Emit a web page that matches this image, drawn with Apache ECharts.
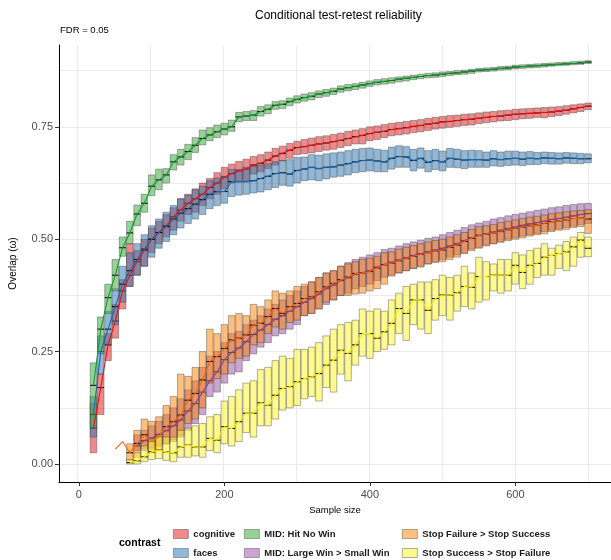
<!DOCTYPE html>
<html>
<head>
<meta charset="utf-8">
<script src="https://cdn.jsdelivr.net/npm/echarts@6/dist/echarts.min.js"></script>
<style>
html, body { margin: 0; padding: 0; background: #fff; }
#chart { width: 611px; height: 560px; }
</style>
</head>
<body>
<div id="chart"></div>
<script>
// sample sizes (x) shared by every contrast
const sizes = [20,30,40,50,60,70,80,90,100,110,120,130,140,150,160,170,180,190,200,210,
  220,230,240,250,260,270,280,290,300,310,320,330,340,350,360,370,380,390,400,410,
  420,430,440,450,460,470,480,490,500,510,520,530,540,550,560,570,580,590,600,610,
  620,630,640,650,660,670,680,690,700];

// cognitive, from n = 20
const cognitiveMed = [0.080,0.170,0.265,0.318,0.385,0.420,0.450,0.475,0.500,0.515,
  0.530,0.550,0.565,0.580,0.590,0.600,0.615,0.625,0.638,0.646,
  0.652,0.656,0.665,0.669,0.676,0.685,0.691,0.698,0.704,0.706,
  0.709,0.712,0.714,0.717,0.720,0.724,0.728,0.731,0.735,0.738,
  0.740,0.744,0.746,0.748,0.751,0.753,0.756,0.758,0.761,0.762,
  0.764,0.766,0.767,0.769,0.771,0.773,0.774,0.776,0.778,0.779,
  0.780,0.781,0.782,0.783,0.785,0.787,0.790,0.793,0.796];
const cognitiveLo = [0.025,0.110,0.230,0.280,0.345,0.395,0.420,0.440,0.470,0.490,
  0.505,0.520,0.540,0.555,0.560,0.575,0.590,0.600,0.612,0.625,
  0.630,0.630,0.645,0.650,0.657,0.665,0.674,0.680,0.688,0.690,
  0.692,0.695,0.698,0.700,0.704,0.708,0.712,0.712,0.719,0.722,
  0.726,0.730,0.732,0.734,0.737,0.739,0.742,0.745,0.747,0.749,
  0.751,0.753,0.754,0.757,0.759,0.761,0.763,0.764,0.766,0.768,
  0.769,0.771,0.770,0.773,0.775,0.778,0.781,0.784,0.788];
const cognitiveHi = [0.135,0.200,0.290,0.355,0.410,0.490,0.475,0.500,0.525,0.540,
  0.555,0.570,0.590,0.600,0.612,0.625,0.635,0.648,0.660,0.667,
  0.673,0.678,0.684,0.688,0.694,0.702,0.707,0.713,0.718,0.722,
  0.725,0.728,0.730,0.733,0.736,0.740,0.743,0.746,0.750,0.752,
  0.755,0.758,0.760,0.762,0.764,0.766,0.769,0.771,0.773,0.775,
  0.776,0.778,0.779,0.781,0.783,0.784,0.786,0.787,0.789,0.790,
  0.791,0.792,0.793,0.794,0.795,0.797,0.799,0.801,0.803];

// faces, from n = 20
const facesMed = [0.110,0.250,0.300,0.350,0.400,0.430,0.455,0.478,0.500,0.515,
  0.528,0.545,0.558,0.568,0.578,0.588,0.600,0.606,0.606,0.628,
  0.628,0.628,0.630,0.635,0.640,0.646,0.648,0.645,0.653,0.656,
  0.660,0.657,0.660,0.661,0.665,0.668,0.672,0.675,0.676,0.674,
  0.672,0.680,0.684,0.683,0.675,0.680,0.671,0.675,0.672,0.680,
  0.678,0.676,0.677,0.677,0.676,0.679,0.677,0.679,0.680,0.678,
  0.680,0.679,0.681,0.680,0.679,0.681,0.680,0.679,0.679];
const facesLo = [0.060,0.200,0.265,0.310,0.360,0.395,0.420,0.440,0.460,0.480,
  0.495,0.510,0.525,0.535,0.545,0.555,0.568,0.575,0.580,0.595,
  0.598,0.600,0.603,0.605,0.610,0.615,0.620,0.618,0.625,0.630,
  0.632,0.630,0.634,0.638,0.640,0.643,0.648,0.650,0.652,0.650,
  0.650,0.656,0.660,0.660,0.652,0.658,0.650,0.655,0.652,0.660,
  0.659,0.657,0.660,0.660,0.660,0.663,0.662,0.664,0.665,0.664,
  0.666,0.666,0.668,0.667,0.667,0.669,0.668,0.668,0.670];
const facesHi = [0.150,0.285,0.340,0.390,0.440,0.470,0.490,0.510,0.530,0.545,
  0.560,0.575,0.590,0.598,0.610,0.618,0.630,0.636,0.640,0.655,
  0.655,0.660,0.662,0.665,0.668,0.672,0.675,0.677,0.682,0.683,
  0.688,0.687,0.690,0.692,0.694,0.697,0.700,0.702,0.703,0.700,
  0.698,0.705,0.708,0.706,0.700,0.703,0.697,0.700,0.696,0.702,
  0.700,0.697,0.698,0.697,0.694,0.697,0.694,0.696,0.696,0.694,
  0.695,0.693,0.694,0.693,0.692,0.693,0.692,0.691,0.690];

// MID: Hit No Win, from n = 20
const hitMed = [0.175,0.300,0.370,0.420,0.481,0.514,0.556,0.580,0.618,0.632,
  0.643,0.672,0.683,0.695,0.709,0.724,0.732,0.739,0.745,0.750,
  0.772,0.774,0.776,0.784,0.789,0.798,0.800,0.806,0.811,0.815,
  0.818,0.823,0.826,0.829,0.834,0.837,0.840,0.843,0.846,0.849,
  0.851,0.853,0.856,0.858,0.860,0.862,0.864,0.865,0.867,0.869,
  0.870,0.872,0.874,0.876,0.877,0.878,0.880,0.881,0.883,0.884,
  0.885,0.886,0.887,0.888,0.889,0.890,0.891,0.892,0.894];
const hitLo = [0.080,0.245,0.335,0.385,0.462,0.490,0.530,0.560,0.597,0.610,
  0.625,0.654,0.665,0.677,0.693,0.710,0.719,0.726,0.732,0.740,
  0.761,0.764,0.764,0.774,0.779,0.789,0.791,0.797,0.803,0.807,
  0.810,0.815,0.818,0.822,0.827,0.830,0.833,0.836,0.840,0.843,
  0.845,0.847,0.850,0.852,0.855,0.857,0.859,0.860,0.862,0.864,
  0.866,0.867,0.869,0.872,0.873,0.874,0.876,0.877,0.879,0.880,
  0.881,0.882,0.883,0.885,0.886,0.887,0.888,0.889,0.891];
const hitHi = [0.225,0.327,0.400,0.455,0.505,0.540,0.576,0.600,0.643,0.656,
  0.657,0.688,0.700,0.711,0.726,0.743,0.748,0.754,0.758,0.765,
  0.782,0.784,0.786,0.795,0.799,0.806,0.808,0.814,0.819,0.823,
  0.826,0.830,0.833,0.836,0.841,0.844,0.846,0.849,0.852,0.855,
  0.857,0.859,0.861,0.863,0.865,0.867,0.869,0.870,0.872,0.873,
  0.875,0.876,0.878,0.880,0.881,0.882,0.884,0.885,0.887,0.888,
  0.889,0.890,0.891,0.892,0.893,0.894,0.895,0.896,0.897];

// MID: Large Win > Small Win, from n = 80
const largeWinMed = [0.040,0.052,0.058,0.066,0.074,0.085,0.098,0.118,0.135,0.160,
  0.185,0.205,0.232,0.248,0.258,0.272,0.288,0.298,0.310,0.322,
  0.330,0.340,0.350,0.360,0.368,0.378,0.390,0.398,0.408,0.414,
  0.422,0.426,0.430,0.438,0.444,0.449,0.454,0.459,0.464,0.468,
  0.472,0.476,0.480,0.485,0.490,0.497,0.503,0.508,0.512,0.516,
  0.520,0.524,0.527,0.531,0.534,0.537,0.540,0.544,0.546,0.549,
  0.552,0.555,0.557];
const largeWinLo = [0.030,0.030,0.035,0.040,0.045,0.050,0.060,0.075,0.090,0.110,
  0.150,0.160,0.180,0.200,0.205,0.230,0.245,0.260,0.270,0.285,
  0.290,0.300,0.310,0.330,0.335,0.345,0.355,0.365,0.375,0.380,
  0.390,0.395,0.400,0.408,0.415,0.420,0.425,0.430,0.435,0.440,
  0.445,0.450,0.455,0.460,0.465,0.470,0.478,0.482,0.487,0.490,
  0.495,0.500,0.503,0.507,0.510,0.513,0.517,0.520,0.523,0.526,
  0.529,0.532,0.535];
const largeWinHi = [0.065,0.075,0.085,0.095,0.110,0.125,0.145,0.165,0.185,0.215,
  0.240,0.250,0.270,0.290,0.295,0.310,0.320,0.330,0.345,0.355,
  0.365,0.375,0.385,0.395,0.405,0.415,0.425,0.430,0.440,0.448,
  0.455,0.460,0.465,0.470,0.477,0.480,0.485,0.490,0.494,0.498,
  0.502,0.505,0.510,0.515,0.520,0.526,0.532,0.536,0.540,0.545,
  0.548,0.552,0.555,0.558,0.561,0.564,0.567,0.570,0.572,0.575,
  0.577,0.579,0.580];

// Stop Failure > Stop Success, from n = 50
const stopFailMed = [0.033,0.050,0.025,0.046,0.065,0.050,0.061,0.083,0.094,0.109,
  0.142,0.157,0.187,0.228,0.239,0.257,0.276,0.280,0.287,0.309,
  0.313,0.328,0.346,0.335,0.350,0.357,0.368,0.372,0.383,0.394,
  0.402,0.410,0.416,0.424,0.425,0.428,0.436,0.443,0.447,0.452,
  0.457,0.462,0.466,0.470,0.473,0.476,0.482,0.487,0.495,0.502,
  0.509,0.511,0.514,0.517,0.521,0.524,0.527,0.530,0.532,0.535,
  0.539,0.541,0.543,0.546,0.547,0.545];
const stopFailLo = [0.033,0.050,0.007,0.015,0.035,0.025,0.030,0.045,0.055,0.065,
  0.090,0.100,0.125,0.180,0.190,0.200,0.225,0.235,0.240,0.265,
  0.270,0.290,0.305,0.300,0.315,0.320,0.330,0.335,0.345,0.360,
  0.365,0.375,0.375,0.378,0.380,0.385,0.390,0.400,0.418,0.425,
  0.430,0.435,0.438,0.445,0.448,0.450,0.455,0.460,0.468,0.475,
  0.480,0.485,0.490,0.493,0.497,0.500,0.503,0.507,0.510,0.512,
  0.517,0.520,0.522,0.526,0.528,0.513];
const stopFailHi = [0.033,0.050,0.045,0.075,0.100,0.095,0.105,0.130,0.150,0.200,
  0.195,0.215,0.250,0.300,0.290,0.310,0.330,0.335,0.330,0.355,
  0.350,0.365,0.385,0.380,0.385,0.395,0.400,0.405,0.415,0.425,
  0.430,0.440,0.445,0.450,0.455,0.458,0.462,0.470,0.472,0.478,
  0.482,0.486,0.490,0.494,0.497,0.500,0.505,0.510,0.515,0.522,
  0.528,0.530,0.533,0.537,0.540,0.543,0.546,0.549,0.551,0.554,
  0.557,0.559,0.561,0.563,0.564,0.566];

// Stop Success > Stop Failure, from n = 70
const stopSuccMed = [0.003,0.007,0.016,0.027,0.031,0.027,0.025,0.038,0.042,0.038,
  0.038,0.057,0.053,0.083,0.079,0.094,0.113,0.113,0.136,0.131,
  0.153,0.168,0.172,0.183,0.190,0.194,0.201,0.220,0.231,0.253,
  0.246,0.265,0.290,0.290,0.280,0.294,0.313,0.346,0.335,0.365,
  0.365,0.342,0.368,0.376,0.376,0.381,0.395,0.393,0.417,0.417,
  0.420,0.420,0.420,0.442,0.426,0.442,0.446,0.460,0.464,0.468,
  0.472,0.483,0.498,0.480];
const stopSuccLo = [0.000,0.000,0.005,0.010,0.012,0.008,0.005,0.015,0.015,0.018,
  0.015,0.030,0.025,0.045,0.040,0.050,0.070,0.060,0.085,0.085,
  0.100,0.120,0.125,0.130,0.145,0.150,0.140,0.170,0.160,0.200,
  0.185,0.220,0.240,0.235,0.250,0.255,0.265,0.290,0.275,0.310,
  0.300,0.290,0.320,0.330,0.320,0.340,0.350,0.345,0.360,0.365,
  0.385,0.380,0.385,0.400,0.390,0.400,0.415,0.420,0.420,0.435,
  0.430,0.440,0.460,0.461];
const stopSuccHi = [0.010,0.025,0.040,0.055,0.065,0.060,0.060,0.075,0.080,0.085,
  0.090,0.105,0.110,0.140,0.150,0.165,0.180,0.185,0.210,0.215,
  0.230,0.240,0.235,0.255,0.255,0.260,0.270,0.285,0.300,0.310,
  0.315,0.320,0.345,0.340,0.345,0.340,0.365,0.380,0.395,0.400,
  0.405,0.405,0.410,0.420,0.415,0.420,0.440,0.425,0.460,0.450,
  0.445,0.455,0.455,0.470,0.465,0.475,0.480,0.490,0.480,0.487,
  0.495,0.505,0.515,0.505];

const contrasts = [
  { name: 'cognitive', start: 20, med: cognitiveMed, lo: cognitiveLo, hi: cognitiveHi, fill: 'rgba(228,26,28,0.52)', line: '#EE1111' },
  { name: 'faces', start: 20, med: facesMed, lo: facesLo, hi: facesHi, fill: 'rgba(55,126,184,0.55)', line: '#1A68AA' },
  { name: 'MID: Hit No Win', start: 20, med: hitMed, lo: hitLo, hi: hitHi, fill: 'rgba(77,175,74,0.58)', line: '#139A3A' },
  { name: 'MID: Large Win > Small Win', start: 80, med: largeWinMed, lo: largeWinLo, hi: largeWinHi, fill: 'rgba(152,78,163,0.5)', line: '#8E3F9E' },
  { name: 'Stop Failure > Stop Success', start: 50, med: stopFailMed, lo: stopFailLo, hi: stopFailHi, fill: 'rgba(255,127,0,0.5)', line: '#FF6400' },
  { name: 'Stop Success > Stop Failure', start: 70, med: stopSuccMed, lo: stopSuccLo, hi: stopSuccHi, fill: 'rgba(255,245,51,0.55)', line: '#FFEA00' }
];

const xTicks = [0, 200, 400, 600];
const yTicks = [0, 0.25, 0.5, 0.75];
const boxHalf = 4.5;
const FONT = 'Liberation Sans, Arial, sans-serif';

function rowsOf(c) {
  const i0 = sizes.indexOf(c.start);
  return c.med.map((m, i) => [sizes[i0 + i], c.lo[i], m, c.hi[i]]);
}

function boxRenderer(fill) {
  return function (params, api) {
    const x = api.value(0), lo = api.value(1), md = api.value(2), hi = api.value(3);
    if (hi <= lo) return null;
    const a = api.coord([x - boxHalf, hi]);
    const b = api.coord([x + boxHalf, lo]);
    const m = api.coord([x, md]);
    return {
      type: 'group',
      children: [
        { type: 'rect', shape: { x: a[0], y: a[1], width: b[0] - a[0], height: b[1] - a[1] },
          style: { fill: fill, stroke: 'rgba(50,50,50,0.55)', lineWidth: 0.7 } },
        { type: 'line', shape: { x1: a[0], y1: m[1], x2: b[0], y2: m[1] },
          style: { stroke: '#000', lineWidth: 1 } }
      ]
    };
  };
}

const boxSeries = contrasts.map(c => ({
  name: c.name,
  type: 'custom',
  xAxisIndex: 0, yAxisIndex: 0,
  renderItem: boxRenderer(c.fill),
  encode: { x: 0, y: [1, 2, 3] },
  data: rowsOf(c),
  clip: true,
  z: 2,
  silent: true
}));

const lineSeries = contrasts.map(c => ({
  name: c.name,
  type: 'line',
  xAxisIndex: 0, yAxisIndex: 0,
  data: rowsOf(c).map(r => [r[0], r[2]]),
  showSymbol: false,
  symbol: 'none',
  lineStyle: { color: c.line, width: 1.1 },
  itemStyle: { color: c.line },
  z: 3,
  silent: true
}));

const legendText = { fontSize: 9.5, fontWeight: 'bold', color: '#1a1a1a', fontFamily: FONT };
function legendBlock(left, names) {
  return {
    orient: 'vertical', left: left, top: 529, height: 40, padding: 0, itemGap: 9,
    itemWidth: 15, itemHeight: 9, icon: 'rect', selectedMode: false,
    textStyle: legendText,
    data: names.map(n => {
      const c = contrasts.find(k => k.name === n);
      return { name: n, itemStyle: { color: c.fill, borderColor: 'rgba(60,60,60,0.6)', borderWidth: 0.7 } };
    })
  };
}

const chart = echarts.init(document.getElementById('chart'), null, { renderer: 'canvas' });
chart.setOption({
  animation: false,
  backgroundColor: '#fff',
  textStyle: { fontFamily: FONT },
  title: [
    { text: 'Conditional test-retest reliability', left: 250, top: 5,
      textStyle: { fontSize: 12, fontWeight: 'normal', color: '#000', fontFamily: FONT } },
    { text: 'FDR = 0.05', left: 55, top: 20,
      textStyle: { fontSize: 9.5, fontWeight: 'normal', color: '#000', fontFamily: FONT } }
  ],
  graphic: [
    { type: 'text', left: 119, top: 538,
      style: { text: 'contrast', fontSize: 10.5, fontWeight: 'bold', fill: '#000', fontFamily: FONT } }
  ],
  legend: [
    legendBlock(173, ['cognitive', 'faces']),
    legendBlock(244, ['MID: Hit No Win', 'MID: Large Win > Small Win']),
    legendBlock(402, ['Stop Failure > Stop Success', 'Stop Success > Stop Failure'])
  ],
  grid: [
    { left: 57, right: 0, top: 45, bottom: 78 },
    { left: 77, right: 23, top: 45, bottom: 78 },
    { left: 57, right: 0, top: 70.6, bottom: 96 }
  ],
  xAxis: [
    { gridIndex: 0, type: 'value', min: -27.4, max: 731.5,
      name: 'Sample size', nameLocation: 'middle', nameGap: 20,
      nameTextStyle: { fontSize: 9.5, color: '#000' },
      axisLine: { show: true, onZero: false, lineStyle: { color: '#000', width: 1 } },
      axisTick: { show: true, length: 4, customValues: xTicks, lineStyle: { color: '#333' } },
      axisLabel: { customValues: xTicks, color: '#4d4d4d', fontSize: 11, margin: 7 },
      splitLine: { show: false } },
    { gridIndex: 1, type: 'value', min: 0, max: 700, interval: 100,
      axisLine: { show: false }, axisTick: { show: false }, axisLabel: { show: false },
      splitLine: { show: true, lineStyle: { color: '#EBEBEB', width: 1 } } },
    { gridIndex: 2, type: 'value', min: 0, max: 1, show: false }
  ],
  yAxis: [
    { gridIndex: 0, type: 'value', min: -0.040, max: 0.932,
      name: 'Overlap (ω)', nameLocation: 'middle', nameGap: 41,
      nameTextStyle: { fontSize: 10, color: '#000' },
      axisLine: { show: true, onZero: false, lineStyle: { color: '#000', width: 1 } },
      axisTick: { show: true, length: 4, customValues: yTicks, lineStyle: { color: '#333' } },
      axisLabel: { customValues: yTicks, color: '#4d4d4d', fontSize: 11, margin: 6,
        formatter: v => v.toFixed(2) },
      splitLine: { show: false } },
    { gridIndex: 1, type: 'value', min: 0, max: 1, show: false },
    { gridIndex: 2, type: 'value', min: 0, max: 0.875, interval: 0.125,
      axisLine: { show: false }, axisTick: { show: false }, axisLabel: { show: false },
      splitLine: { show: true, lineStyle: { color: '#EBEBEB', width: 1 } } }
  ],
  series: boxSeries.concat(lineSeries)
});
</script>
</body>
</html>
